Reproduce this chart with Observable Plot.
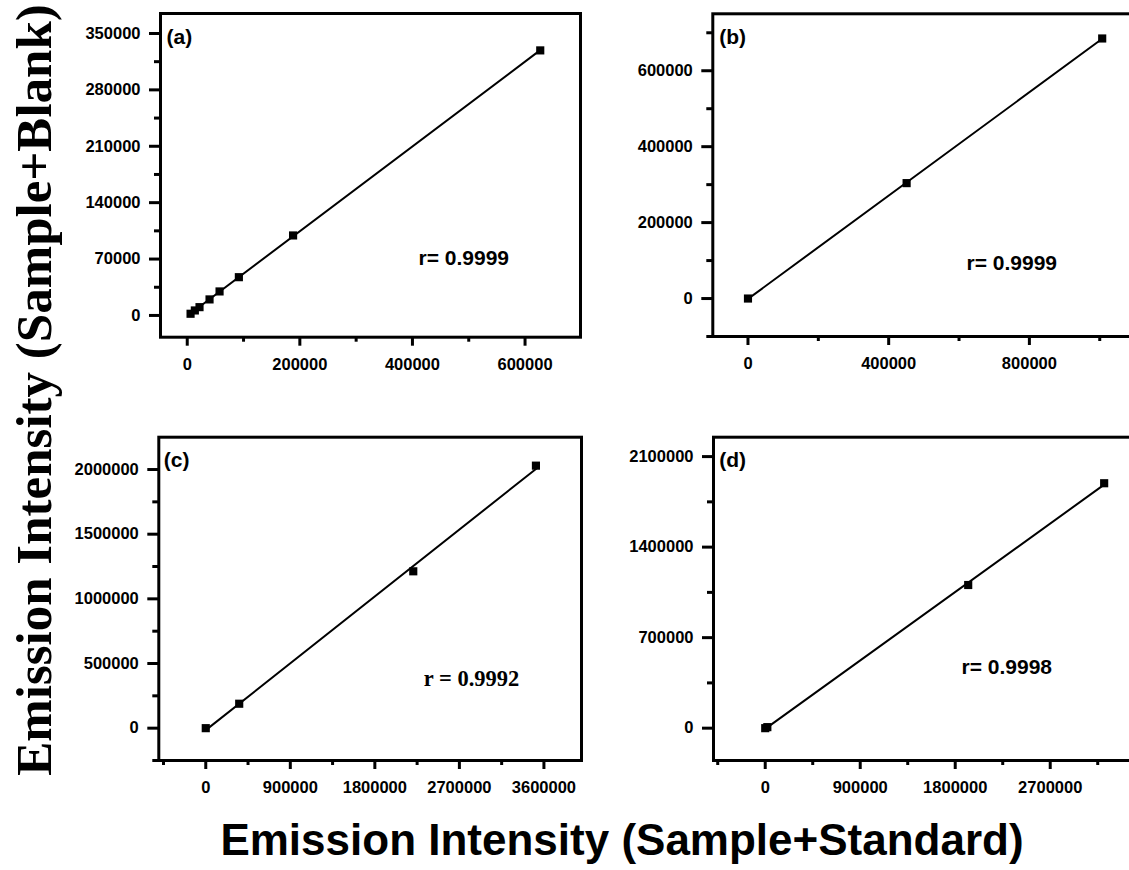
<!DOCTYPE html>
<html><head><meta charset="utf-8">
<script src="https://cdn.jsdelivr.net/npm/d3@7"></script>
<script src="https://cdn.jsdelivr.net/npm/@observablehq/plot@0.6"></script>
<style>
body{margin:0;background:#fff;}
#fig{position:relative;width:1129px;height:870px;overflow:hidden;background:#fff;}
#fig > svg{position:absolute;}
#fig g[aria-label$="tick label"], #fig g[aria-label$="tick label"] text{
  font-family:'Liberation Sans', Arial, sans-serif; font-weight:bold; font-size:16.5px; fill:#000;
}
</style></head><body><div id="fig"></div>
<script>
// Panel (a)
const aX = [5900, 13500, 21800, 39600, 57400, 91700, 188000, 627000];
const aY = [2100, 6200, 10300, 19900, 29800, 47500, 99300, 329000];
const aXTicks = [0, 200000, 400000, 600000];
const aXMinor = [100000, 300000, 500000];
const aYTicks = [0, 70000, 140000, 210000, 280000, 350000];
const aYMinor = [35000, 105000, 175000, 245000, 315000];
// Panel (b)
const bX = [0, 451000, 1007000];
const bY = [0, 304000, 685000];
const bXTicks = [0, 400000, 800000];
const bXMinor = [200000, 600000, 1000000];
const bYTicks = [0, 200000, 400000, 600000];
const bYMinor = [-100000, 100000, 300000, 500000, 700000];
// Panel (c)
const cX = [0, 356000, 2209000, 3515000];
const cY = [0, 189000, 1213000, 2030000];
const cXTicks = [0, 900000, 1800000, 2700000, 3600000];
const cXMinor = [-450000, 450000, 1350000, 2250000, 3150000];
const cYTicks = [0, 500000, 1000000, 1500000, 2000000];
const cYMinor = [-250000, 250000, 750000, 1250000, 1750000];
// Panel (d)
const dX = [0, 20000, 1923000, 3211000];
const dY = [0, 8000, 1107000, 1894000];
const dXTicks = [0, 900000, 1800000, 2700000];
const dXMinor = [-450000, 450000, 1350000, 2250000, 3150000];
const dYTicks = [0, 700000, 1400000, 2100000];
const dYMinor = [350000, 1050000, 1750000];

const tags = ["(a)", "(b)", "(c)", "(d)"];
const rLabels = ["r= 0.9999", "r= 0.9999", "r = 0.9992", "r= 0.9998"];
const xTitle = "Emission Intensity (Sample+Standard)";
const yTitle = "Emission Intensity (Sample+Blank)";

const SANS = "'Liberation Sans', Arial, sans-serif";
const SERIF = "'Liberation Serif', 'Times New Roman', serif";
const fmt = d3.format("d");
const fig = document.getElementById("fig");

const panels = [
  {xs: aX, ys: aY, xt: aXTicks, xm: aXMinor, yt: aYTicks, ym: aYMinor,
   xd: [-47500, 698500], yd: [-27000, 374800], left: 60, top: 0, width: 540, height: 390,
   ml: 100, mr: 20, mt: 13, mb: 53.3, tag: tags[0], r: rLabels[0],
   tagDx: 6, tagDy: 15.5, rDx: 258, rDy: 237, rFont: SANS, rSize: 21},
  {xs: bX, ys: bY, xt: bXTicks, xm: bXMinor, yt: bYTicks, ym: bYMinor,
   xd: [-100000, 1150000], yd: [-100000, 750000], left: 600, top: 0, width: 567, height: 390,
   ml: 112.3, mr: 15, mt: 13.3, mb: 54, tag: tags[1], r: rLabels[1],
   tagDx: 6.5, tagDy: 15.5, rDx: 253.7, rDy: 241, rFont: SANS, rSize: 21},
  {xs: cX, ys: cY, xt: cXTicks, xm: cXMinor, yt: cYTicks, ym: cYMinor,
   xd: [-500000, 4000000], yd: [-250000, 2250000], left: 60, top: 390, width: 540, height: 410,
   ml: 98.3, mr: 19, mt: 46.7, mb: 40, tag: tags[2], r: rLabels[2],
   tagDx: 5, tagDy: 15.3, rDx: 265, rDy: 233.2, rFont: SERIF, rSize: 22.5},
  {xs: dX, ys: dY, xt: dXTicks, xm: dXMinor, yt: dYTicks, ym: dYMinor,
   xd: [-490000, 3650000], yd: [-250000, 2250000], left: 600, top: 390, width: 565, height: 410,
   ml: 113, mr: 15, mt: 46.7, mb: 40, tag: tags[3], r: rLabels[3],
   tagDx: 5.8, tagDy: 15.3, rDx: 248, rDy: 222.3, rFont: SANS, rSize: 21}
];

for (const c of panels) {
  const data = c.xs.map((x, i) => ({x, y: c.ys[i]}));
  const p = Plot.plot({
    width: c.width, height: c.height,
    marginLeft: c.ml, marginRight: c.mr, marginTop: c.mt, marginBottom: c.mb,
    x: {domain: c.xd, label: null},
    y: {domain: c.yd, label: null},
    style: {background: "transparent", color: "black", fontFamily: SANS, fontWeight: "bold", fontSize: "16.5px", overflow: "visible"},
    marks: [
      Plot.axisX(c.xt, {tickSize: 9, tickPadding: 12, strokeWidth: 3, tickFormat: fmt, label: null, fontSize: 16.5, fontWeight: "bold", fontFamily: SANS}),
      Plot.axisX(c.xm, {tickSize: 5, tickPadding: 0, strokeWidth: 3, tickFormat: () => "", label: null}),
      Plot.axisY(c.yt, {tickSize: 11, tickPadding: 9, strokeWidth: 3, tickFormat: fmt, label: null, fontSize: 16.5, fontWeight: "bold", fontFamily: SANS}),
      Plot.axisY(c.ym, {tickSize: 6, tickPadding: 0, strokeWidth: 3, tickFormat: () => "", label: null}),
      Plot.frame({stroke: "black", strokeWidth: 3}),
      Plot.linearRegressionY(data, {x: "x", y: "y", ci: 0, stroke: "black", strokeWidth: 2}),
      Plot.dot(data, {x: "x", y: "y", symbol: "square", r: 4.6, fill: "black"}),
      Plot.text([c.tag], {text: d => d, frameAnchor: "top-left", textAnchor: "start", lineAnchor: "top",
        dx: c.tagDx, dy: c.tagDy, fontSize: 21, fontWeight: "bold", fontFamily: SANS, fill: "black"}),
      Plot.text([c.r], {text: d => d, frameAnchor: "top-left", textAnchor: "start", lineAnchor: "top",
        dx: c.rDx, dy: c.rDy, fontSize: c.rSize, fontWeight: "bold", fontFamily: c.rFont, fill: "black"})
    ]
  });
  p.style.left = c.left + "px";
  p.style.top = c.top + "px";
  fig.appendChild(p);
}

const ov = d3.select(fig).append("svg")
  .attr("width", 1129).attr("height", 870)
  .style("left", "0px").style("top", "0px").style("pointer-events", "none");
ov.append("text")
  .attr("transform", "translate(51,390) rotate(-90)")
  .attr("text-anchor", "middle")
  .style("font-family", SERIF).style("font-weight", "bold").style("font-size", "51px")
  .text(yTitle);
ov.append("text")
  .attr("x", 622).attr("y", 855)
  .attr("text-anchor", "middle")
  .style("font-family", SANS).style("font-weight", "bold").style("font-size", "44px")
  .text(xTitle);
</script></body></html>
